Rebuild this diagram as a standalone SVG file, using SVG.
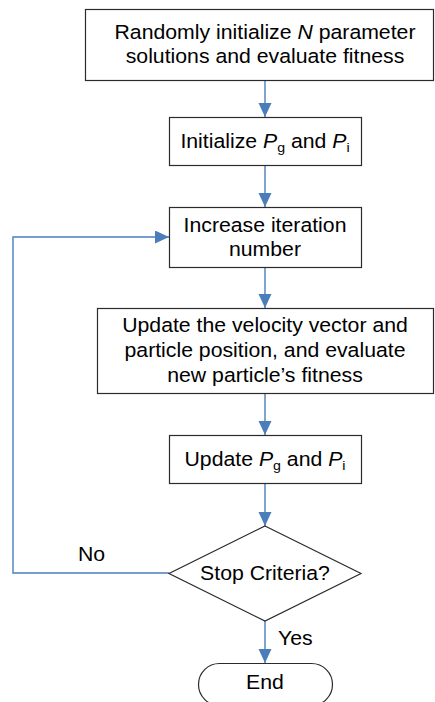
<svg xmlns="http://www.w3.org/2000/svg" width="435" height="702" viewBox="0 0 435 702">
  <style>
    .box { fill: #ffffff; stroke: #2b2b2b; stroke-width: 1.2; }
    .conn { fill: none; stroke: #4a7ebb; stroke-width: 1.4; }
    text { font-family: "Liberation Sans", Arial, sans-serif; font-size: 19.5px; fill: #000000; text-anchor: middle; }
    .lbl { text-anchor: start; }
    .sub { font-size: 13px; }
    .it { font-style: italic; }
  </style>
  <defs>
    <marker id="arrow" markerUnits="userSpaceOnUse" markerWidth="15" markerHeight="14" refX="14" refY="6.5" orient="auto">
      <path d="M0,0 L14,6.5 L0,13 z" fill="#4a7ebb"/>
    </marker>
  </defs>

  <rect width="435" height="702" fill="#ffffff"/>

  <!-- connectors -->
  <g id="connectors">
    <line class="conn" x1="265" y1="80" x2="265" y2="117" marker-end="url(#arrow)"/>
    <line class="conn" x1="265" y1="165" x2="265" y2="207" marker-end="url(#arrow)"/>
    <line class="conn" x1="265" y1="267" x2="265" y2="308" marker-end="url(#arrow)"/>
    <line class="conn" x1="265" y1="393" x2="265" y2="435" marker-end="url(#arrow)"/>
    <line class="conn" x1="265" y1="483" x2="265" y2="526" marker-end="url(#arrow)"/>
    <line class="conn" x1="265" y1="621" x2="265" y2="663" marker-end="url(#arrow)"/>
    <polyline class="conn" points="169,573 13,573 13,237 169,237" marker-end="url(#arrow)"/>
    <g transform="translate(78 561) scale(1.09 1)"><text class="lbl" x="0" y="0">No</text></g>
    <g transform="translate(278 645) scale(1.09 1)"><text class="lbl" x="0" y="0">Yes</text></g>
  </g>

  <!-- random initialization -->
  <g id="init-solutions">
    <rect class="box" x="85.5" y="9.5" width="348" height="71"/>
    <g transform="translate(265 0) scale(1.09 1)">
      <text x="0" y="39">Randomly initialize <tspan class="it">N</tspan> parameter</text>
      <text x="0" y="63">solutions and evaluate fitness</text>
    </g>
  </g>

  <!-- initialize bests -->
  <g id="init-best">
    <rect class="box" x="169.5" y="117.5" width="192" height="48"/>
    <g transform="translate(265 0) scale(1.09 1)">
      <text x="0" y="148">Initialize <tspan class="it">P</tspan><tspan class="sub" dy="4">g</tspan><tspan dy="-4"> and </tspan><tspan class="it">P</tspan><tspan class="sub" dy="4">i</tspan></text>
    </g>
  </g>

  <!-- iteration counter -->
  <g id="increase-iteration">
    <rect class="box" x="169.5" y="207.5" width="192" height="60"/>
    <g transform="translate(265 0) scale(1.09 1)">
      <text x="0" y="232">Increase iteration</text>
      <text x="0" y="256">number</text>
    </g>
  </g>

  <!-- velocity / position update -->
  <g id="update-velocity">
    <rect class="box" x="97.5" y="308.5" width="336" height="85"/>
    <g transform="translate(265 0) scale(1.09 1)">
      <text x="0" y="332">Update the velocity vector and</text>
      <text x="0" y="357">particle position, and evaluate</text>
      <text x="0" y="382">new particle’s fitness</text>
    </g>
  </g>

  <!-- update bests -->
  <g id="update-best">
    <rect class="box" x="169.5" y="435.5" width="192" height="48"/>
    <g transform="translate(265 0) scale(1.09 1)">
      <text x="0" y="466">Update <tspan class="it">P</tspan><tspan class="sub" dy="4">g</tspan><tspan dy="-4"> and </tspan><tspan class="it">P</tspan><tspan class="sub" dy="4">i</tspan></text>
    </g>
  </g>

  <!-- stop decision -->
  <g id="stop-criteria">
    <polygon class="box" points="265,526 361,573.5 265,621 169,573.5"/>
    <g transform="translate(265 0) scale(1.09 1)">
      <text x="0" y="580">Stop Criteria?</text>
    </g>
  </g>

  <!-- terminator -->
  <g id="end">
    <rect class="box" x="198.5" y="663.5" width="134" height="42" rx="21" ry="21"/>
    <g transform="translate(265 0) scale(1.09 1)">
      <text x="0" y="689">End</text>
    </g>
  </g>
</svg>
